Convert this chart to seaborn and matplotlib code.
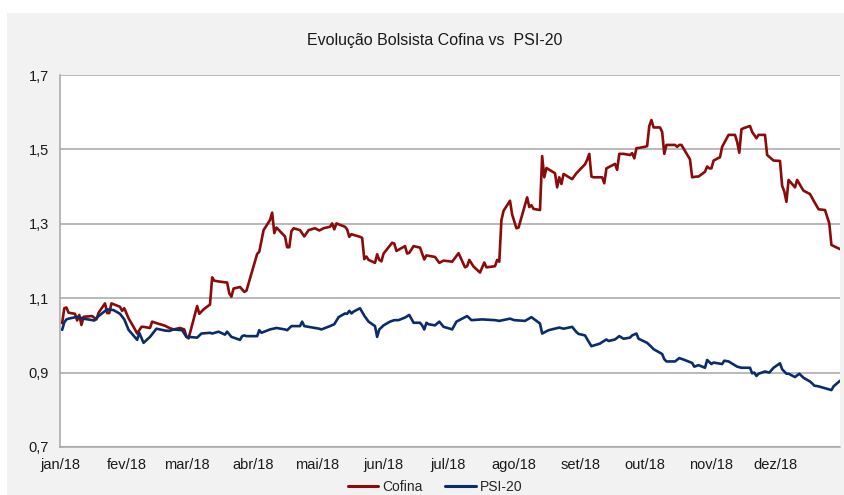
import pandas as pd
import matplotlib.pyplot as plt
import matplotlib.ticker as mticker
from matplotlib.lines import Line2D
from matplotlib.patches import Rectangle
import seaborn as sns

# -----------------------------
# Data
# -----------------------------
cofina_dates = [
    "01-02", "01-03", "01-04", "01-05", "01-08", "01-09", "01-10", "01-11", "01-12", "01-16",
    "01-18", "01-19", "01-22", "01-23", "01-24", "01-25", "01-29", "01-30", "01-31", "02-02",
    "02-05", "02-06", "02-08", "02-09", "02-12", "02-13", "02-15", "02-19", "02-21", "02-23",
    "02-26", "02-28", "03-01", "03-02", "03-06", "03-07", "03-09", "03-12", "03-13", "03-14",
    "03-16", "03-20", "03-21", "03-22", "03-23", "03-26", "03-28", "03-29", "04-03", "04-04",
    "04-06", "04-09", "04-10", "04-11", "04-12", "04-16", "04-17", "04-18", "04-19", "04-20",
    "04-23", "04-25", "04-27", "04-30", "05-02", "05-04", "05-07", "05-08", "05-09", "05-10",
    "05-14", "05-15", "05-16", "05-17", "05-21", "05-22", "05-23", "05-24", "05-25", "05-28",
    "05-29", "05-30", "05-31", "06-01", "06-05", "06-06", "06-07", "06-11", "06-12", "06-13",
    "06-14", "06-15", "06-18", "06-20", "06-21", "06-25", "06-27", "06-29", "07-02", "07-03",
    "07-06", "07-09", "07-10", "07-11", "07-13", "07-16", "07-18", "07-19", "07-23", "07-24",
    "07-25", "07-26", "07-27", "07-30", "07-31", "08-02", "08-03", "08-07", "08-08", "08-09",
    "08-10", "08-13", "08-14", "08-15", "08-16", "08-20", "08-21", "08-22", "08-23", "08-24",
    "08-28", "08-30", "09-03", "09-04", "09-05", "09-06", "09-07", "09-11", "09-12", "09-13",
    "09-17", "09-18", "09-19", "09-21", "09-24", "09-25", "09-26", "09-27", "10-01", "10-02",
    "10-03", "10-04", "10-05", "10-08", "10-09", "10-10", "10-11", "10-15", "10-16", "10-17",
    "10-18", "10-22", "10-23", "10-25", "10-26", "10-29", "10-30", "10-31", "11-01", "11-02",
    "11-05", "11-06", "11-09", "11-12", "11-13", "11-14", "11-15", "11-16", "11-19", "11-20",
    "11-22", "11-23", "11-26", "11-27", "11-28", "11-30", "12-03", "12-04", "12-05", "12-06",
    "12-07", "12-10", "12-11", "12-13", "12-14", "12-17", "12-19", "12-21", "12-24", "12-26",
    "12-27", "12-31",
]
cofina_values = [
    1.033, 1.073, 1.075, 1.061, 1.058, 1.040, 1.055, 1.028, 1.050, 1.052,
    1.043, 1.061, 1.086, 1.060, 1.060, 1.086, 1.077, 1.066, 1.073, 1.046,
    1.016, 1.005, 1.023, 1.023, 1.020, 1.037, 1.033, 1.026, 1.020, 1.016,
    1.020, 1.016, 0.996, 0.992, 1.079, 1.058, 1.070, 1.083, 1.156, 1.147,
    1.145, 1.142, 1.113, 1.104, 1.126, 1.130, 1.117, 1.120, 1.219, 1.225,
    1.283, 1.310, 1.330, 1.275, 1.290, 1.266, 1.237, 1.237, 1.280, 1.288,
    1.283, 1.266, 1.283, 1.288, 1.282, 1.288, 1.292, 1.301, 1.285, 1.301,
    1.292, 1.285, 1.265, 1.272, 1.265, 1.262, 1.205, 1.212, 1.203, 1.195,
    1.218, 1.203, 1.199, 1.220, 1.249, 1.247, 1.227, 1.240, 1.220, 1.222,
    1.231, 1.240, 1.236, 1.204, 1.215, 1.211, 1.195, 1.201, 1.199, 1.198,
    1.221, 1.183, 1.186, 1.203, 1.185, 1.169, 1.196, 1.183, 1.186, 1.203,
    1.198, 1.310, 1.335, 1.362, 1.325, 1.288, 1.290, 1.371, 1.345, 1.350,
    1.340, 1.337, 1.482, 1.425, 1.450, 1.436, 1.398, 1.425, 1.407, 1.434,
    1.420, 1.436, 1.460, 1.472, 1.488, 1.427, 1.425, 1.425, 1.409, 1.449,
    1.461, 1.445, 1.488, 1.488, 1.485, 1.490, 1.476, 1.503, 1.507, 1.509,
    1.563, 1.579, 1.559, 1.559, 1.547, 1.488, 1.512, 1.512, 1.507, 1.512,
    1.512, 1.473, 1.425, 1.427, 1.427, 1.440, 1.454, 1.449, 1.449, 1.470,
    1.479, 1.507, 1.539, 1.539, 1.520, 1.491, 1.554, 1.557, 1.563, 1.547,
    1.530, 1.539, 1.539, 1.485, 1.480, 1.470, 1.469, 1.402, 1.387, 1.359,
    1.418, 1.398, 1.418, 1.398, 1.389, 1.380, 1.359, 1.339, 1.337, 1.301,
    1.243, 1.232,
]

psi_dates = [
    "01-02", "01-03", "01-04", "01-05", "01-09", "01-12", "01-17", "01-19", "01-23", "01-26",
    "01-29", "01-31", "02-02", "02-06", "02-07", "02-09", "02-12", "02-15", "02-19", "02-21",
    "02-23", "02-27", "03-01", "03-02", "03-06", "03-08", "03-12", "03-13", "03-16", "03-19",
    "03-20", "03-22", "03-26", "03-27", "03-28", "03-29", "04-03", "04-04", "04-05", "04-09",
    "04-12", "04-16", "04-17", "04-19", "04-23", "04-24", "04-25", "04-27", "05-02", "05-03",
    "05-07", "05-09", "05-11", "05-14", "05-15", "05-16", "05-17", "05-18", "05-21", "05-23",
    "05-25", "05-28", "05-29", "05-30", "06-01", "06-04", "06-06", "06-08", "06-11", "06-13",
    "06-15", "06-18", "06-19", "06-20", "06-21", "06-22", "06-25", "06-27", "06-29", "07-02",
    "07-03", "07-05", "07-10", "07-12", "07-17", "07-23", "07-25", "07-30", "08-01", "08-06",
    "08-09", "08-13", "08-14", "08-17", "08-22", "08-24", "08-28", "08-30", "08-31", "09-03",
    "09-04", "09-06", "09-10", "09-11", "09-13", "09-14", "09-17", "09-19", "09-21", "09-24",
    "09-25", "09-27", "09-28", "10-02", "10-04", "10-05", "10-09", "10-10", "10-11", "10-15",
    "10-17", "10-19", "10-23", "10-24", "10-26", "10-29", "10-30", "11-01", "11-02", "11-06",
    "11-07", "11-09", "11-13", "11-15", "11-19", "11-20", "11-21", "11-22", "11-23", "11-26",
    "11-28", "11-30", "12-03", "12-04", "12-06", "12-07", "12-10", "12-12", "12-14", "12-17",
    "12-18", "12-19", "12-21", "12-24", "12-27", "12-28", "12-31",
]
psi_values = [
    1.015, 1.035, 1.043, 1.045, 1.050, 1.045, 1.040, 1.052, 1.070, 1.068,
    1.058, 1.043, 1.015, 0.988, 1.007, 0.980, 0.996, 1.018, 1.013, 1.012,
    1.016, 1.014, 0.996, 0.996, 0.994, 1.005, 1.007, 1.005, 1.010, 1.002,
    1.010, 0.996, 0.988, 0.998, 1.000, 0.998, 0.998, 1.014, 1.007, 1.016,
    1.020, 1.016, 1.014, 1.025, 1.025, 1.037, 1.025, 1.023, 1.018, 1.016,
    1.025, 1.030, 1.049, 1.059, 1.058, 1.066, 1.059, 1.064, 1.073, 1.053,
    1.037, 1.025, 0.996, 1.016, 1.027, 1.037, 1.041, 1.041, 1.048, 1.055,
    1.034, 1.034, 1.027, 1.016, 1.034, 1.030, 1.027, 1.037, 1.023, 1.018,
    1.016, 1.037, 1.052, 1.041, 1.043, 1.041, 1.039, 1.045, 1.041, 1.039,
    1.049, 1.032, 1.005, 1.014, 1.021, 1.018, 1.023, 1.009, 1.004, 1.000,
    0.990, 0.971, 0.978, 0.982, 0.989, 0.985, 0.989, 0.998, 0.991, 0.994,
    1.000, 1.005, 0.991, 0.980, 0.969, 0.963, 0.950, 0.936, 0.930, 0.930,
    0.939, 0.935, 0.926, 0.916, 0.920, 0.913, 0.934, 0.923, 0.927, 0.923,
    0.932, 0.930, 0.916, 0.913, 0.913, 0.898, 0.900, 0.891, 0.897, 0.903,
    0.900, 0.913, 0.925, 0.909, 0.897, 0.897, 0.888, 0.897, 0.886, 0.876,
    0.871, 0.865, 0.863, 0.858, 0.853, 0.863, 0.878,
]

month_labels = ["jan/18", "fev/18", "mar/18", "abr/18", "mai/18", "jun/18",
                "jul/18", "ago/18", "set/18", "out/18", "nov/18", "dez/18"]
series_names = ["Cofina", "PSI-20"]
series_colors = ["#8B0A0A", "#0B2C6B"]

# Long-form table for seaborn
df = pd.concat([
    pd.DataFrame({"data": pd.to_datetime(["2018-" + d for d in cofina_dates]),
                  "valor": cofina_values, "serie": series_names[0]}),
    pd.DataFrame({"data": pd.to_datetime(["2018-" + d for d in psi_dates]),
                  "valor": psi_values, "serie": series_names[1]}),
], ignore_index=True)

# -----------------------------
# Style
# -----------------------------
sns.set_theme(style="white")
plt.rcParams["font.family"] = ["Liberation Sans Narrow", "Liberation Sans", "DejaVu Sans"]
grid_grey = "#a6a6a6"

fig = plt.figure(figsize=(8.45, 4.95), dpi=100, facecolor="white")
# light grey chart panel
fig.patches.append(Rectangle((7 / 845, 0), 1, 1 - 13 / 495, transform=fig.transFigure,
                             facecolor="#f2f2f2", edgecolor="none", zorder=-10))
ax = fig.add_axes([60 / 845, 1 - 447 / 495, 780 / 845, 372 / 495])
ax.set_facecolor("white")

sns.lineplot(data=df, x="data", y="valor", hue="serie", palette=series_colors,
             linewidth=1.9, legend=False, ax=ax, zorder=3)

# Axes limits / ticks
ax.set_xlim(pd.Timestamp("2018-01-01"), pd.Timestamp("2018-12-31"))
ax.set_ylim(0.7, 1.7)
ax.set_yticks([0.7, 0.9, 1.1, 1.3, 1.5, 1.7])
ax.yaxis.set_major_formatter(mticker.FuncFormatter(lambda v, p: f"{v:.1f}".replace(".", ",")))
ax.set_xticks(pd.date_range("2018-01-01", periods=12, freq="MS"))
ax.set_xticklabels(month_labels)
ax.tick_params(axis="both", direction="out", length=5, width=1, color=grid_grey,
               labelsize=10.5, labelcolor="#1a1a1a", pad=3)
ax.set_xlabel("")
ax.set_ylabel("")

ax.grid(axis="y", color=grid_grey, linewidth=1.1)
ax.grid(axis="x", visible=False)
for side in ["top", "right"]:
    ax.spines[side].set_visible(False)
for side in ["left", "bottom"]:
    ax.spines[side].set_color(grid_grey)
    ax.spines[side].set_linewidth(1.1)

# Title
fig.text(435 / 845, 1 - 40 / 495, "Evolução Bolsista Cofina vs  PSI-20",
         ha="center", va="center", fontsize=11.5, color="#1a1a1a")

# Legend
handles = [Line2D([0], [0], color=c, linewidth=2.2) for c in series_colors]
fig.legend(handles, series_names, loc="center", bbox_to_anchor=(435 / 845, 1 - 487 / 495),
           ncol=2, frameon=False, fontsize=10, handlelength=2.2, handletextpad=0.3,
           columnspacing=1.6, borderpad=0)

plt.savefig("out.png", dpi=100, facecolor=fig.get_facecolor())
plt.close()
